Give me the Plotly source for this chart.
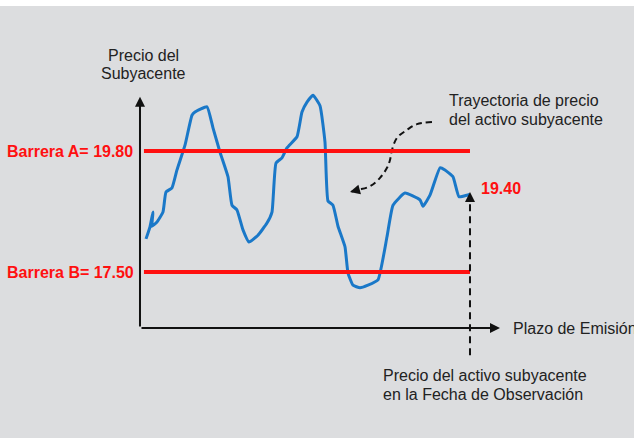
import plotly.graph_objects as go

# ---- data (time index 0..100 = observation date, price units) ----
t_path = [1.82, 3.03, 3.94, 3.64, 5.15, 6.97, 7.88, 9.70, 11.21, 13.64, 15.76, 16.67,
          20.30, 22.12, 24.24, 26.67, 27.88, 29.39, 31.21, 33.03, 35.76, 38.48, 40.00,
          41.21, 43.03, 44.55, 47.58, 49.09, 50.61, 52.42, 54.55, 56.06, 56.97, 58.48,
          60.00, 62.12, 63.03, 64.55, 66.67, 69.09, 72.12, 74.85, 76.67, 80.30, 84.85,
          85.76, 87.88, 90.91, 92.42, 94.85, 96.67, 99.09, 100.0]
p_path = [18.13, 18.36, 18.64, 18.37, 18.45, 18.64, 19.02, 19.10, 19.44, 19.91, 20.48, 20.54,
          20.64, 20.24, 19.78, 19.31, 18.77, 18.68, 18.30, 18.07, 18.20, 18.43, 18.64,
          19.57, 19.67, 19.86, 20.07, 20.54, 20.73, 20.86, 20.66, 19.97, 18.85, 18.77,
          18.37, 17.98, 17.48, 17.25, 17.20, 17.25, 17.35, 18.17, 18.77, 19.00, 18.87,
          18.75, 18.96, 19.48, 19.44, 19.31, 18.93, 18.96, 18.98]
barrier_a = 19.80
barrier_b = 17.50
obs_price_label = "19.40"
t_obs = 100.0

# curved pointer path
t_curve = [88.48, 83.94, 80.91, 77.88, 76.36, 75.76, 74.85, 72.73, 69.70, 66.06, 63.64]
p_curve = [20.35, 20.31, 20.20, 20.05, 19.82, 19.63, 19.48, 19.29, 19.13, 19.06, 19.02]

W, H = 634, 438
X0, X1 = -42.42, 149.70
Y0, Y1 = 14.345, 22.670

def px(x):
    return x / W

def py(y):
    return 1 - y / H

RED = "#ff1010"
BLUE = "#1a78c8"
TXT = "#222222"
FONT = "Liberation Sans, Arial, sans-serif"

fig = go.Figure()

# blue trajectory
fig.add_trace(go.Scatter(x=t_path, y=p_path, mode="lines",
                         line=dict(color=BLUE, width=3, shape="spline", smoothing=0.4),
                         hoverinfo="skip", showlegend=False))

# curved dashed pointer
fig.add_trace(go.Scatter(x=t_curve, y=p_curve, mode="lines",
                         line=dict(color="#111111", width=2, dash="6px,4px", shape="spline"),
                         hoverinfo="skip", showlegend=False))

shapes = []
# white strip on top
shapes.append(dict(type="rect", xref="paper", yref="paper", x0=0, x1=1, y0=py(6), y1=1,
                   fillcolor="white", line=dict(width=0), layer="below"))
# barrier lines
for b in (barrier_a, barrier_b):
    shapes.append(dict(type="line", xref="x", yref="y", x0=1.2, x1=t_obs, y0=b, y1=b,
                       line=dict(color=RED, width=4)))
# dashed observation line
shapes.append(dict(type="line", xref="x", yref="y", x0=t_obs, x1=t_obs, y0=15.92, y1=18.85,
                   line=dict(color="#111111", width=2, dash="7px,5px")))

annotations = []
# axes arrows
annotations.append(dict(x=0, y=20.83, ax=0, ay=16.436, xref="x", yref="y", axref="x", ayref="y",
                        text="", showarrow=True, arrowhead=2, arrowsize=1, arrowwidth=2,
                        arrowcolor="#111111"))
annotations.append(dict(x=109.1, y=16.436, ax=0, ay=16.436, xref="x", yref="y", axref="x", ayref="y",
                        text="", showarrow=True, arrowhead=2, arrowsize=1, arrowwidth=2,
                        arrowcolor="#111111"))
# arrowhead of observation line
annotations.append(dict(x=t_obs, y=19.02, ax=t_obs, ay=18.80, xref="x", yref="y", axref="x", ayref="y",
                        text="", showarrow=True, arrowhead=2, arrowsize=1, arrowwidth=2,
                        arrowcolor="#111111"))
# arrowhead of curved pointer
annotations.append(dict(x=t_curve[-1], y=p_curve[-1], ax=t_curve[-2], ay=p_curve[-2],
                        xref="x", yref="y", axref="x", ayref="y",
                        text="", showarrow=True, arrowhead=2, arrowsize=1, arrowwidth=2,
                        arrowcolor="#111111"))

def txt(text, x, y, xanchor="left", color=TXT, size=16, bold=False):
    if bold:
        text = "<b>" + text + "</b>"
    annotations.append(dict(text=text, x=px(x), y=py(y), xref="paper", yref="paper",
                            xanchor=xanchor, yanchor="middle", showarrow=False,
                            font=dict(family=FONT, size=size, color=color)))

txt("Precio del", 143, 55, xanchor="center")
txt("Subyacente", 143, 74, xanchor="center")
txt("Trayectoria de precio", 447, 100)
txt("del activo subyacente", 447, 119)
txt("Barrera A= 19.80", 5, 151, color=RED, bold=True)
txt("Barrera B= 17.50", 5, 272, color=RED, bold=True)
txt(obs_price_label, 479, 189, color=RED, bold=True)
txt("Plazo de Emisión", 511, 328)
txt("Precio del activo subyacente", 381, 375)
txt("en la Fecha de Observación", 381, 394)

fig.update_layout(
    width=W, height=H, margin=dict(l=0, r=0, t=0, b=0),
    paper_bgcolor="#dcdddf", plot_bgcolor="#dcdddf",
    xaxis=dict(range=[X0, X1], visible=False, fixedrange=True),
    yaxis=dict(range=[Y0, Y1], visible=False, fixedrange=True),
    shapes=shapes, annotations=annotations, showlegend=False,
)

fig.write_html("out.html")
